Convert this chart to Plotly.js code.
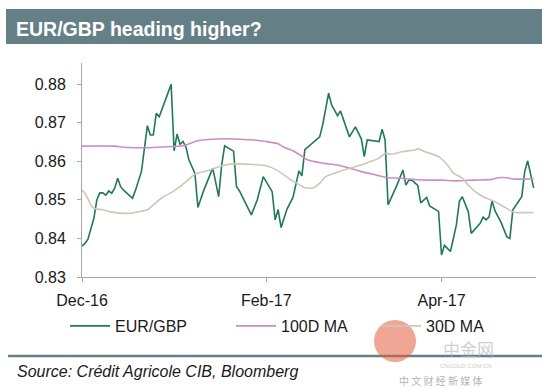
<!DOCTYPE html>
<html>
<head>
<meta charset="utf-8">
<script src="https://cdn.plot.ly/plotly-3.0.1.min.js"></script>
<style>
html,body{margin:0;padding:0;background:#fff;}
#chart{width:542px;height:389px;}
</style>
</head>
<body>
<div id="chart"></div>
<script>
// ---- data ----
const fxDates = ['2016-12-01','2016-12-02','2016-12-03','2016-12-04','2016-12-05','2016-12-06','2016-12-07','2016-12-08','2016-12-09','2016-12-10','2016-12-11','2016-12-12','2016-12-13','2016-12-14','2016-12-15','2016-12-18','2016-12-19','2016-12-21','2016-12-22','2016-12-23','2016-12-24','2016-12-25','2016-12-26','2016-12-27','2016-12-31',
'2017-01-01','2017-01-02','2017-01-03','2017-01-04','2017-01-05','2017-01-06','2017-01-08','2017-01-09','2017-01-11','2017-01-14','2017-01-16','2017-01-17','2017-01-18','2017-01-21','2017-01-22','2017-01-23','2017-01-27','2017-01-29','2017-01-31',
'2017-02-03','2017-02-04','2017-02-05','2017-02-06','2017-02-08','2017-02-10','2017-02-12','2017-02-13','2017-02-14','2017-02-17','2017-02-19','2017-02-20','2017-02-22','2017-02-23','2017-02-25','2017-02-26',
'2017-03-01','2017-03-03','2017-03-05','2017-03-06','2017-03-07','2017-03-11','2017-03-12','2017-03-13','2017-03-14','2017-03-17','2017-03-19','2017-03-20','2017-03-21','2017-03-22','2017-03-24','2017-03-25','2017-03-27','2017-03-28','2017-03-31',
'2017-04-01','2017-04-02','2017-04-04','2017-04-06','2017-04-07','2017-04-08','2017-04-10','2017-04-11','2017-04-14','2017-04-15','2017-04-16','2017-04-17','2017-04-18','2017-04-19','2017-04-21','2017-04-23','2017-04-24','2017-04-25','2017-04-28','2017-04-29','2017-04-30','2017-05-02'];
const fxValues = [0.8380,0.8387,0.8398,0.8422,0.8452,0.8500,0.8518,0.8518,0.8512,0.8523,0.8517,0.8530,0.8556,0.8534,0.8525,0.8504,0.8525,0.8573,0.8633,0.8692,0.8668,0.8668,0.8724,0.8715,0.8799,
0.8627,0.8670,0.8644,0.8651,0.8636,0.8603,0.8569,0.8480,0.8525,0.8582,0.8508,0.8590,0.8640,0.8626,0.8534,0.8523,0.8461,0.8500,0.8560,
0.8521,0.8448,0.8475,0.8428,0.8476,0.8506,0.8575,0.8562,0.8630,0.8649,0.8663,0.8694,0.8776,0.8746,0.8718,0.8730,
0.8663,0.8689,0.8658,0.8612,0.8655,0.8651,0.8683,0.8655,0.8487,0.8538,0.8577,0.8538,0.8551,0.8551,0.8537,0.8492,0.8506,0.8484,0.8470,
0.8357,0.8382,0.8366,0.8435,0.8496,0.8508,0.8469,0.8413,0.8439,0.8455,0.8448,0.8456,0.8497,0.8471,0.8442,0.8404,0.8400,0.8474,0.8508,0.8573,0.8601,0.8531];

const ma100Dates = ['2016-12-01','2016-12-12','2016-12-15','2016-12-19','2016-12-24','2016-12-31','2017-01-04','2017-01-09','2017-01-18','2017-01-23','2017-01-28','2017-02-01','2017-02-05','2017-02-07','2017-02-10','2017-02-12','2017-02-15','2017-02-20','2017-02-25','2017-03-01','2017-03-05','2017-03-10','2017-03-14','2017-03-18','2017-03-24','2017-03-27','2017-04-01','2017-04-06','2017-04-12','2017-04-18','2017-04-20','2017-04-23','2017-04-25','2017-05-02'];
const ma100Values = [0.8639,0.8639,0.8636,0.8635,0.8635,0.8638,0.8640,0.8653,0.8658,0.8657,0.8655,0.8651,0.8645,0.8636,0.8627,0.8618,0.8603,0.8595,0.8590,0.8582,0.8573,0.8564,0.8557,0.8556,0.8552,0.8551,0.8551,0.8549,0.8551,0.8553,0.8557,0.8557,0.8554,0.8554];

const ma30Dates = ['2016-12-01','2016-12-02','2016-12-04','2016-12-05','2016-12-08','2016-12-11','2016-12-17','2016-12-20','2016-12-23','2016-12-25','2016-12-28','2017-01-01','2017-01-03','2017-01-05','2017-01-08','2017-01-13','2017-01-18','2017-01-23','2017-02-01','2017-02-05','2017-02-09','2017-02-12','2017-02-14','2017-02-17','2017-02-19','2017-02-21','2017-02-24','2017-03-01','2017-03-05','2017-03-08','2017-03-11','2017-03-13','2017-03-15','2017-03-19','2017-03-23','2017-03-24','2017-03-27','2017-03-31','2017-04-03','2017-04-05','2017-04-08','2017-04-10','2017-04-12','2017-04-15','2017-04-19','2017-04-22','2017-04-25','2017-04-26','2017-05-02'];
const ma30Values = [0.8525,0.8517,0.8487,0.8478,0.8474,0.8468,0.8465,0.8469,0.8474,0.8487,0.8506,0.8523,0.8534,0.8547,0.8566,0.8577,0.8590,0.8593,0.8588,0.8575,0.8553,0.8540,0.8531,0.8531,0.8543,0.8560,0.8569,0.8582,0.8590,0.8599,0.8608,0.8620,0.8618,0.8625,0.8629,0.8632,0.8623,0.8612,0.8590,0.8569,0.8556,0.8538,0.8523,0.8508,0.8495,0.8482,0.8469,0.8467,0.8467];

const seriesNames = ['EUR/GBP','100D MA','30D MA'];
const xTickVals = ['2016-12-01','2017-02-01','2017-04-01'];
const xTickText = ['Dec-16','Feb-17','Apr-17'];
const yTickVals = [0.83,0.84,0.85,0.86,0.87,0.88];

// ---- chart ----
const FONT = 'Arial, "Liberation Sans", sans-serif';
const AX = '#a6a6a6';

const traces = [
  {x: fxDates, y: fxValues, name: seriesNames[0], type: 'scatter', mode: 'lines',
   line: {color: '#21795b', width: 1.6}, legend: 'legend'},
  {x: ma100Dates, y: ma100Values, name: seriesNames[1], type: 'scatter', mode: 'lines',
   line: {color: '#c690c3', width: 1.6, shape: 'spline', smoothing: 0.6}, legend: 'legend2'},
  {x: ma30Dates, y: ma30Values, name: seriesNames[2], type: 'scatter', mode: 'lines',
   line: {color: '#cdc7b6', width: 1.6, shape: 'spline', smoothing: 0.6}, legend: 'legend3'}
];

// helpers: convert page pixels to paper coordinates
const L = 82, R = 6, T = 63, B = 112, W = 542, H = 389;
const pw = W - L - R, ph = H - T - B;
const px = v => (v - L) / pw;
const py = v => (H - B - v) / ph;

const legendBase = {orientation: 'h', xanchor: 'left', yanchor: 'middle', y: py(326),
  font: {family: FONT, size: 16, color: '#1a1a1a'}, bgcolor: 'rgba(0,0,0,0)', borderwidth: 0,
  itemwidth: 40, tracegroupgap: 0};

const layout = {
  width: W, height: H,
  margin: {l: L, r: R, t: T, b: B, pad: 0},
  paper_bgcolor: '#ffffff', plot_bgcolor: '#ffffff',
  font: {family: FONT, size: 16, color: '#1a1a1a'},
  title: {text: '<b>EUR/GBP heading higher?</b>', x: 16 / W, xanchor: 'left', xref: 'container',
          y: 1 - 29 / H, yanchor: 'middle', yref: 'container',
          font: {family: FONT, size: 19.5, color: '#ffffff'}},
  xaxis: {type: 'date', range: ['2016-12-01', '2017-05-02 19:00'],
          tickvals: xTickVals, ticktext: xTickText,
          showline: true, linecolor: AX, linewidth: 1, showgrid: false, zeroline: false,
          ticks: 'outside', ticklen: 4, tickcolor: AX, tickwidth: 1,
          ticklabelstandoff: 5,
          tickfont: {family: FONT, size: 16, color: '#1a1a1a'}, fixedrange: true},
  yaxis: {range: [0.83, 0.88544], tickvals: yTickVals, tickformat: '.2f',
          showline: true, linecolor: AX, linewidth: 1, showgrid: false, zeroline: false,
          ticks: 'outside', ticklen: 4, tickcolor: AX, tickwidth: 1,
          ticklabelstandoff: 8,
          tickfont: {family: FONT, size: 16, color: '#1a1a1a'}, fixedrange: true},
  showlegend: true,
  legend: Object.assign({}, legendBase, {x: px(65)}),
  legend2: Object.assign({}, legendBase, {x: px(231)}),
  legend3: Object.assign({}, legendBase, {x: px(376)}),
  shapes: [
    {type: 'rect', xref: 'paper', yref: 'paper', x0: px(6), x1: px(542), y0: py(44), y1: py(9),
     fillcolor: '#657f87', line: {width: 0}, layer: 'below'},
    {type: 'line', xref: 'paper', yref: 'paper', x0: px(8), x1: px(542), y0: py(356), y1: py(356),
     line: {color: '#657f87', width: 2.5}},
    {type: 'circle', xref: 'paper', yref: 'paper', x0: px(374), x1: px(416), y0: py(362), y1: py(320),
     fillcolor: 'rgba(228,92,62,0.55)', line: {width: 0}}
  ],
  annotations: [
    {text: 'Source: Crédit Agricole CIB, Bloomberg', xref: 'paper', yref: 'paper',
     x: px(15), y: py(371), xanchor: 'left', yanchor: 'middle', showarrow: false,
     font: {family: FONT, size: 16, color: '#1a1a1a', style: 'italic'}},
    {text: '中金网', xref: 'paper', yref: 'paper', x: px(468), y: py(348), xanchor: 'center', yanchor: 'middle',
     showarrow: false, borderpad: 0,
     font: {family: '"Noto Sans CJK SC", sans-serif', size: 17, color: 'rgba(175,175,175,0.6)'}},
    {text: 'CNGOLD.COM.CN', xref: 'paper', yref: 'paper', x: px(466), y: py(366), xanchor: 'center', yanchor: 'middle',
     showarrow: false, borderpad: 0, font: {family: FONT, size: 6, color: 'rgba(185,185,185,0.8)'}},
    {text: '中 文 财 经 新 媒 体', xref: 'paper', yref: 'paper', x: px(440), y: py(380), xanchor: 'center', yanchor: 'middle',
     showarrow: false, borderpad: 0,
     font: {family: '"Noto Sans CJK SC", sans-serif', size: 10, color: '#b4b4b4'}}
  ]
};

Plotly.newPlot('chart', traces, layout, {displayModeBar: false, staticPlot: true});
</script>
</body>
</html>
